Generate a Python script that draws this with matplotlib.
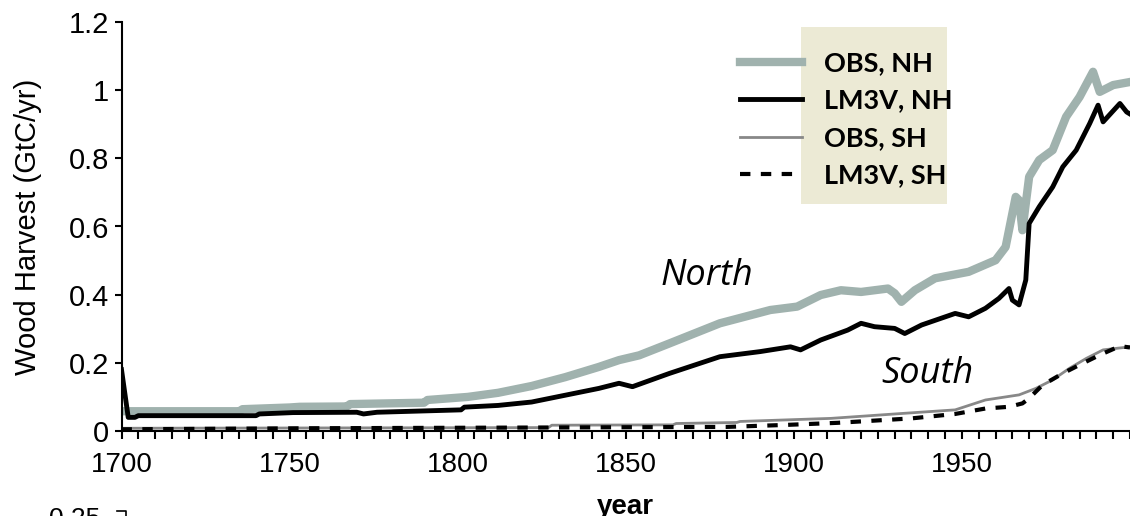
import matplotlib
matplotlib.use("Agg")
import matplotlib.pyplot as plt
from matplotlib.lines import Line2D
from matplotlib.patches import Rectangle
from matplotlib.ticker import MultipleLocator, FixedLocator, FormatStrFormatter

# ---- data (GtC/yr) ----
years_obs_nh = [1701, 1735, 1736, 1750, 1753, 1767, 1768, 1790, 1791, 1803, 1812, 1822,
                1832, 1842, 1848, 1854, 1863, 1878, 1893, 1901, 1908, 1914, 1920, 1928,
                1930, 1932, 1936, 1942, 1952, 1960, 1963, 1966, 1967, 1968, 1970, 1973,
                1977, 1981, 1985, 1989, 1991, 1995, 2000]
obs_nh = [0.058, 0.058, 0.064, 0.069, 0.071, 0.072, 0.079, 0.083, 0.091, 0.100, 0.112, 0.132,
          0.158, 0.188, 0.208, 0.222, 0.257, 0.316, 0.355, 0.365, 0.399, 0.413, 0.408, 0.418,
          0.404, 0.379, 0.413, 0.448, 0.467, 0.501, 0.540, 0.687, 0.677, 0.589, 0.746, 0.795,
          0.824, 0.922, 0.980, 1.054, 0.995, 1.015, 1.024]

years_lm_nh = [1700, 1702, 1704, 1705, 1740, 1741, 1751, 1770, 1772, 1776, 1801, 1802,
               1812, 1822, 1832, 1842, 1848, 1852, 1863, 1878, 1890, 1899, 1902, 1908,
               1916, 1920, 1924, 1930, 1933, 1938, 1948, 1952, 1957, 1961, 1964, 1965,
               1967, 1969, 1970, 1973, 1977, 1980, 1984, 1988, 1990.5, 1992, 1997, 1999, 2000]
lm_nh = [0.18, 0.04, 0.04, 0.045, 0.045, 0.05, 0.054, 0.055, 0.05, 0.055, 0.062, 0.07,
         0.075, 0.085, 0.105, 0.125, 0.140, 0.130, 0.169, 0.218, 0.233, 0.247, 0.238, 0.267,
         0.296, 0.316, 0.306, 0.301, 0.286, 0.311, 0.345, 0.335, 0.360, 0.389, 0.418, 0.384,
         0.370, 0.443, 0.609, 0.658, 0.716, 0.775, 0.824, 0.902, 0.956, 0.907, 0.961, 0.936, 0.93]

years_obs_sh = [1700, 1827, 1828, 1864, 1865, 1883, 1884, 1911, 1933, 1948, 1957, 1967,
                1972, 1977, 1982, 1987, 1992, 2000]
obs_sh = [0.008, 0.010, 0.017, 0.018, 0.022, 0.025, 0.028, 0.037, 0.052, 0.062, 0.091, 0.106,
          0.125, 0.150, 0.184, 0.213, 0.238, 0.247]

years_lm_sh = [1700, 1755, 1880, 1898, 1913, 1935, 1948, 1957, 1964, 1968, 1970, 1974,
               1980, 1985, 1991, 1997, 2000]
lm_sh = [0.005, 0.008, 0.012, 0.018, 0.024, 0.037, 0.050, 0.066, 0.071, 0.081, 0.096, 0.135,
         0.169, 0.194, 0.223, 0.249, 0.245]

labels = ["OBS, NH", "LM3V, NH", "OBS, SH", "LM3V, SH"]
year_ticks = [1700, 1750, 1800, 1850, 1900, 1950]

plt.rcParams["font.family"] = "Liberation Sans"

fig = plt.figure(figsize=(11.3, 5.16), dpi=100)
ax = fig.add_axes([121.5 / 1130, 85 / 516, 1008.5 / 1130, 409 / 516])

ax.plot(years_obs_nh, obs_nh, color="#a0b2ae", lw=6, label=labels[0])
ax.plot(years_lm_nh, lm_nh, color="black", lw=3.5, label=labels[1])
ax.plot(years_obs_sh, obs_sh, color="#888888", lw=2, label=labels[2])
ax.plot(years_lm_sh, lm_sh, color="black", lw=3, ls=(0, (2.5, 2.5)), label=labels[3])

ax.set_xlim(1700, 2000)
ax.set_ylim(0, 1.2)
for s in ["top", "right"]:
    ax.spines[s].set_visible(False)
for s in ["left", "bottom"]:
    ax.spines[s].set_linewidth(1.5)

ax.xaxis.set_major_locator(FixedLocator(year_ticks))
ax.xaxis.set_minor_locator(MultipleLocator(5))
ax.yaxis.set_major_locator(MultipleLocator(0.2))
ax.yaxis.set_major_formatter(FormatStrFormatter("%g"))
ax.tick_params(axis="x", which="both", direction="out", length=6, width=1.5, pad=9, labelsize=20)
ax.tick_params(axis="y", direction="out", length=5, width=1.5, pad=4, labelsize=21)

ax.set_xlabel("year", fontsize=20, fontweight="bold", labelpad=12)
fig.text(28 / 1130, 1 - 227 / 516, "Wood Harvest (GtC/yr)", rotation=90,
         ha="center", va="center", fontsize=21)

ax.text(1860.2, 0.428, "North", fontsize=26, style="italic", family="Open Sans", va="baseline")
ax.text(1926.0, 0.141, "South", fontsize=26, style="italic", family="Open Sans", va="baseline")

# legend: box behind the labels, handles to its left
ax.add_patch(Rectangle((801 / 1130, 1 - 204 / 516), 146 / 1130, 177 / 516,
                       transform=fig.transFigure, facecolor="#ecead5", edgecolor="none",
                       zorder=4))
leg = ax.legend(loc="upper left", bbox_to_anchor=(740 / 1130, 1 - 51 / 516),
                bbox_transform=fig.transFigure, frameon=False, borderpad=0,
                borderaxespad=0, handlelength=2.3, handletextpad=0.8,
                labelspacing=0.5, prop={"family": "Lato", "weight": "bold", "size": 19.5})
leg.set_zorder(5)

# top of the next panel, cut off by the image edge
fig.text(100 / 1130, 1 - 507 / 516, "0.25", ha="right", va="top", fontsize=19)
fig.add_artist(Line2D([117 / 1130, 126 / 1130, 126 / 1130],
                      [1 - 511 / 516, 1 - 511 / 516, 0], color="black", lw=1.2))

fig.savefig("out.png", dpi=100)
